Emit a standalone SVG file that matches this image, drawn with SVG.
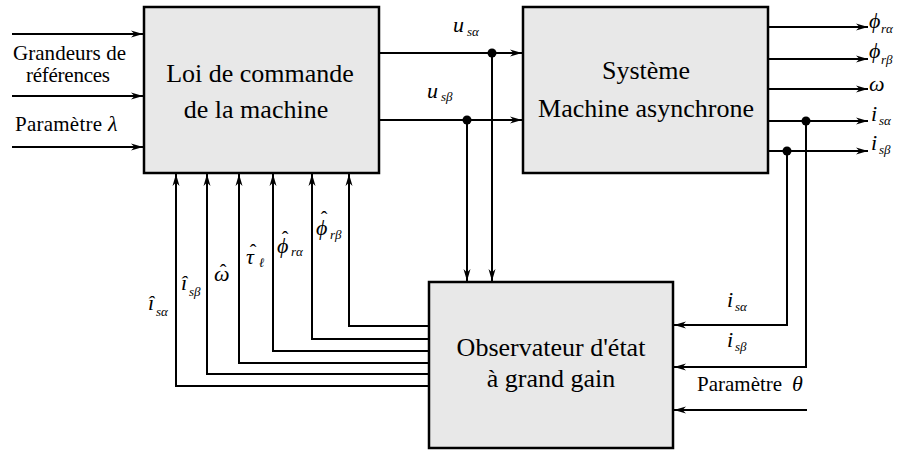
<svg xmlns="http://www.w3.org/2000/svg" width="903" height="451" viewBox="0 0 903 451">
<style>
.box{fill:#e8e8e8;stroke:#000;stroke-width:2.5}
.ln{fill:none;stroke:#000;stroke-width:2}
.bt{font-family:'Liberation Serif','Times New Roman',serif;font-size:26px;fill:#000;text-anchor:middle}
.t{font-family:'Liberation Serif','Times New Roman',serif;font-size:21px;fill:#000}
.m{font-family:'Liberation Serif','Times New Roman',serif;font-style:italic;font-size:22px;fill:#000}
.s{font-size:13px}
.h{font-size:20px;font-style:normal;text-anchor:middle}
</style>
<defs>
<marker id="ah" markerWidth="12" markerHeight="8" refX="12" refY="4" orient="auto" markerUnits="userSpaceOnUse">
<path d="M0,0.5 L12,4 L0,7.5 L3.5,4 z" fill="#000"/>
</marker>
</defs>
<rect width="903" height="451" fill="#fff"/>

<g id="connectors">
<path class="ln" d="M12,34 H143" marker-end="url(#ah)"/>
<path class="ln" d="M12,96 H143" marker-end="url(#ah)"/>
<path class="ln" d="M12,147 H143" marker-end="url(#ah)"/>
<path class="ln" d="M379,53 H522" marker-end="url(#ah)"/>
<path class="ln" d="M379,120 H522" marker-end="url(#ah)"/>
<path class="ln" d="M492,53 V281" marker-end="url(#ah)"/>
<path class="ln" d="M467,120 V281" marker-end="url(#ah)"/>
<path class="ln" d="M768,27 H868" marker-end="url(#ah)"/>
<path class="ln" d="M768,59 H868" marker-end="url(#ah)"/>
<path class="ln" d="M768,89 H868" marker-end="url(#ah)"/>
<path class="ln" d="M768,121 H868" marker-end="url(#ah)"/>
<path class="ln" d="M768,151 H868" marker-end="url(#ah)"/>
<path class="ln" d="M787,151 V325 H674" marker-end="url(#ah)"/>
<path class="ln" d="M806,121 V367 H674" marker-end="url(#ah)"/>
<path class="ln" d="M807,410 H674" marker-end="url(#ah)"/>
<path class="ln" d="M429,326 H349 V174" marker-end="url(#ah)"/>
<path class="ln" d="M429,339 H312 V174" marker-end="url(#ah)"/>
<path class="ln" d="M429,351 H273 V174" marker-end="url(#ah)"/>
<path class="ln" d="M429,363 H239 V174" marker-end="url(#ah)"/>
<path class="ln" d="M429,374 H207 V174" marker-end="url(#ah)"/>
<path class="ln" d="M429,386 H176 V174" marker-end="url(#ah)"/>
<circle cx="492" cy="53" r="4.5"/>
<circle cx="467" cy="120" r="4.5"/>
<circle cx="806" cy="121" r="4.5"/>
<circle cx="787" cy="151" r="4.5"/>
</g>

<g id="loi">
<rect class="box" x="144" y="7" width="235" height="166"/>
<text class="bt" x="260" y="82">Loi de commande</text>
<text class="bt" x="256" y="118">de la machine</text>
</g>

<g id="systeme">
<rect class="box" x="523" y="7" width="245" height="166"/>
<text class="bt" x="646" y="79">Système</text>
<text class="bt" x="646" y="117">Machine asynchrone</text>
</g>

<g id="observateur">
<rect class="box" x="429" y="282" width="244" height="166"/>
<text class="bt" x="551" y="356">Observateur d'état</text>
<text class="bt" x="551" y="387">à grand gain</text>
</g>

<g id="labels">
<text class="t" x="13" y="60" textLength="113">Grandeurs de</text>
<text class="t" x="26" y="82" textLength="84">références</text>
<text class="t" x="15" y="131"><tspan textLength="87">Paramètre</tspan><tspan class="m" x="108" font-size="25">λ</tspan></text>

<text class="m" x="453" y="32">u<tspan class="s" x="467" y="36">sα</tspan></text>
<text class="m" x="427" y="98">u<tspan class="s" x="441" y="101">sβ</tspan></text>

<text class="m" x="869" y="28">ϕ<tspan class="s" x="881" y="33">rα</tspan></text>
<text class="m" x="869" y="58">ϕ<tspan class="s" x="881" y="64">rβ</tspan></text>
<text class="m" x="869" y="91">ω</text>
<text class="m" x="871" y="121">i<tspan class="s" x="879" y="125">sα</tspan></text>
<text class="m" x="871" y="150">i<tspan class="s" x="879" y="154">sβ</tspan></text>

<text class="m" x="727" y="307">i<tspan class="s" x="735" y="311">sα</tspan></text>
<text class="m" x="727" y="347">i<tspan class="s" x="735" y="351">sβ</tspan></text>
<text class="t" x="697" y="391">Paramètre<tspan class="m" x="792" font-size="25">θ</tspan></text>

<text class="m" x="148" y="310">î<tspan class="s" x="156" y="316">sα</tspan></text>
<text class="m" x="181" y="290">î<tspan class="s" x="189" y="296">sβ</tspan></text>
<text class="m" x="214" y="281">ω<tspan class="h" x="223" y="279">ˆ</tspan></text>
<text class="m" x="246" y="264">τ<tspan class="h" x="253" y="259">ˆ</tspan><tspan class="s" x="259" y="267">ℓ</tspan></text>
<text class="m" x="277" y="253">ϕ<tspan class="h" x="285" y="246">ˆ</tspan><tspan class="s" x="291" y="256">rα</tspan></text>
<text class="m" x="316" y="235">ϕ<tspan class="h" x="324" y="226">ˆ</tspan><tspan class="s" x="330" y="239">rβ</tspan></text>
</g>
</svg>
